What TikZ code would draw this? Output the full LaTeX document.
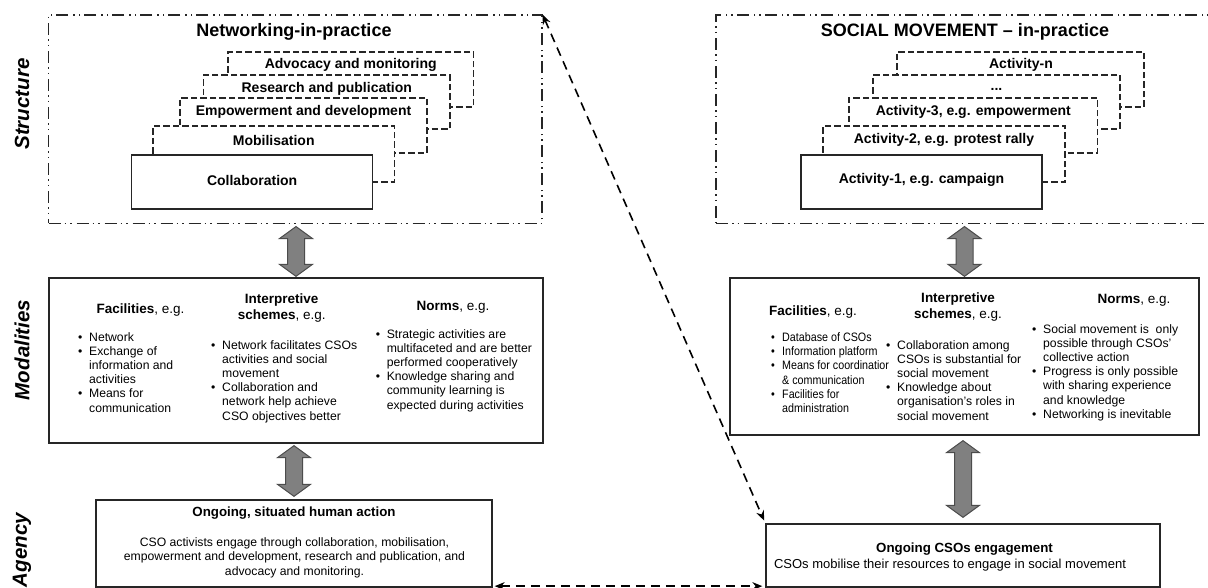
\documentclass[tikz,border=0pt]{standalone}
\usepackage{fontspec}
\setmainfont{Liberation Sans}
\newfontfamily\narrowfont[FakeStretch=0.88]{Liberation Sans}
\usetikzlibrary{calc,arrows.meta}
\newcommand\bu{\makebox[11pt][l]{•}}
\newcommand\ind{\hspace*{11pt}}
\newcommand\blockarr[2]{%
  \draw[blk] let \p1=#1, \p2=#2 in
    (\x2,\y1) -- (\x2+16.5pt,\y1-12pt) -- (\x2+8.5pt,\y1-12pt) -- (\x2+8.5pt,\y2+12pt)
    -- (\x2+16.5pt,\y2+12pt) -- (\x2,\y2) -- (\x2-16.5pt,\y2+12pt) -- (\x2-8.5pt,\y2+12pt)
    -- (\x2-8.5pt,\y1-12pt) -- (\x2-16.5pt,\y1-12pt) -- cycle;}
\begin{document}
\begin{tikzpicture}[x=1pt,y=-1pt,
  frame/.style={draw=black!85, line width=1.1pt, dash pattern=on 12pt off 4pt on 1.5pt off 4pt on 1.5pt off 5pt, inner sep=0pt},
  dbox/.style={draw=black!85, line width=1.3pt, dash pattern=on 6.5pt off 3pt, fill=white, inner sep=0pt},
  sbox/.style={draw=black!85, line width=1.3pt, fill=white, inner sep=0pt},
  btext/.style={font=\bfseries\fontsize{14}{16}\selectfont, inner sep=0pt},
  ttext/.style={font=\bfseries\fontsize{18}{20}\selectfont, inner sep=0pt},
  side/.style={font=\bfseries\itshape\fontsize{20.5}{22}\selectfont, rotate=90, inner sep=0pt},
  head/.style={font=\fontsize{13.5}{16}\selectfont, align=center, inner sep=0pt},
  coltext/.style={font=\fontsize{12.2}{14.2}\selectfont, align=left, inner sep=0pt, anchor=north west},
  blk/.style={fill=black!50, draw=black!70, line width=1pt},
  dasharrow/.style={draw=black, line width=1.6pt, dash pattern=on 9pt off 6pt, {Stealth[length=10pt,width=8pt]}-{Stealth[length=10pt,width=8pt]}}
]
\clip (0,0) rectangle (1208,588);
\fill[white] (0,0) rectangle (1208,588);

% side labels
\node[side] (lstruct) at (22,104) {Structure};
\node[side] (lmodal) at (22,350) {Modalities};
\node[side] (lagency) at (22,550) {Agency};

% ---------- left structure ----------
\node[frame, minimum width=493.5, minimum height=208.5] (lst) at (295.25,119.25) {};
\node[ttext] (ltitle) at (294,32) {Networking-in-practice};
\node[dbox, minimum width=245.5, minimum height=55] (adv) at (350.75,79.5) {};
\node[dbox, minimum width=246.4, minimum height=54] (res) at (326.8,102) {};
\node[dbox, minimum width=247, minimum height=55] (emp) at (303.5,125.5) {};
\node[dbox, minimum width=241.5, minimum height=56] (mob) at (273.75,154) {};
\node[sbox, minimum width=241, minimum height=54] (col) at (252.15,182) {};
\node[btext] (advt) at (350.75,65) {Advocacy and monitoring};
\node[btext] (rest) at (326.8,89) {Research and publication};
\node[btext] (empt) at (303.5,112) {Empowerment and development};
\node[btext] (mobt) at (273.75,140) {Mobilisation};
\node[btext] (colt) at (252.15,180) {Collaboration};

% ---------- right structure ----------
\node[frame, minimum width=500, minimum height=208.5] (rst) at (966,119.25) {};
\node[ttext] (rtitle) at (965,32) {SOCIAL MOVEMENT – in-practice};
\node[dbox, minimum width=247, minimum height=55] (actn) at (1020.5,79.5) {};
\node[dbox, minimum width=247, minimum height=54] (actd) at (996.5,102) {};
\node[dbox, minimum width=248.5, minimum height=55] (act3) at (973.25,125.5) {};
\node[dbox, minimum width=242, minimum height=56] (act2) at (944,154) {};
\node[sbox, minimum width=241, minimum height=54] (act1) at (921.5,182) {};
\node[btext] (actnt) at (1021,65) {Activity-n};
\node[btext] (actdt) at (996.5,89) {...};
\node[btext] (act3t) at (973.25,112) {Activity-3, e.g. empowerment};
\node[btext] (act2t) at (944,140) {Activity-2, e.g. protest rally};
\node[btext] (act1t) at (921.5,180) {Activity-1, e.g. campaign};

% ---------- left modalities ----------
\node[sbox, minimum width=494, minimum height=165] (lmod) at (296,360.5) {};
\node[head] (lfh) at (140.6,310) {\textbf{Facilities}, e.g.};
\node[head] (lih) at (281.7,308) {\textbf{Interpretive}\\\textbf{schemes}, e.g.};
\node[head] (lnh) at (453,307) {\textbf{Norms}, e.g.};
\node[coltext] (lfac) at (78,331) {\strut\bu Network\\\bu Exchange of\\\ind information and\\\ind activities\\\bu Means for\\\ind communication};
\node[coltext] (lint) at (211,339) {\strut\bu Network facilitates CSOs\\\ind activities and social\\\ind movement\\\bu Collaboration and\\\ind network help achieve\\\ind CSO objectives better};
\node[coltext] (lnor) at (375.6,328) {\strut\bu Strategic activities are\\\ind multifaceted and are better\\\ind performed cooperatively\\\bu Knowledge sharing and\\\ind community learning is\\\ind expected during activities};

% ---------- right modalities ----------
\node[sbox, minimum width=469, minimum height=157] (rmod) at (964.5,356.5) {};
\node[head] (rfh) at (813,312) {\textbf{Facilities}, e.g.};
\node[head] (rih) at (958,307.5) {\textbf{Interpretive}\\\textbf{schemes}, e.g.};
\node[head] (rnh) at (1134,300) {\textbf{Norms}, e.g.};
\node[coltext, font=\narrowfont\fontsize{12.2}{14.3}\selectfont] (rfac) at (771,331) {\strut\bu Database of CSOs\\\bu Information platform\\\bu Means for coordinatior\\\ind \& communication\\\bu Facilities for\\\ind administration};
\node[coltext] (rint) at (886,339) {\strut\bu Collaboration among\\\ind CSOs is substantial for\\\ind social movement\\\bu Knowledge about\\\ind organisation's roles in\\\ind social movement};
\node[coltext] (rnor) at (1032,323) {\strut\bu Social movement is\ \ only\\\ind possible through CSOs'\\\ind collective action\\\bu Progress is only possible\\\ind with sharing experience\\\ind and knowledge\\\bu Networking is inevitable};

% ---------- agency ----------
\node[sbox, minimum width=396, minimum height=87] (lag) at (294,543.5) {};
\node[font=\bfseries\fontsize{13.3}{15}\selectfont, inner sep=0pt] (lagt) at (294,513) {Ongoing, situated human action};
\node[font=\fontsize{12.2}{14.5}\selectfont, align=center, inner sep=0pt] (lagb) at (294.5,557.5) {CSO activists engage through collaboration, mobilisation,\\empowerment and development, research and publication, and\\advocacy and monitoring.};

\node[sbox, minimum width=394, minimum height=63] (rag) at (963,555.5) {};
\node[font=\bfseries\fontsize{13.3}{15}\selectfont, inner sep=0pt] (ragt) at (964.5,549) {Ongoing CSOs engagement};
\node[font=\fontsize{13}{15}\selectfont, inner sep=0pt] (ragb) at (950,565) {CSOs mobilise their resources to engage in social movement};

% ---------- block arrows ----------
\blockarr{($(lst.south)+(0,2.5)$)}{($(lmod.north)+(0,-1)$)}
\blockarr{($(lmod.south)+(0,2)$)}{($(lag.north)+(0,-3)$)}
\blockarr{($(rst.south)+(0,2.5)$)}{($(rmod.north)+(0,-1)$)}
\blockarr{($(rmod.south)+(0,5)$)}{($(rag.north)+(0,-6)$)}

% ---------- dashed connectors ----------
\draw[dasharrow, shorten >=3pt] (lst.north east) -- (rag.north west);
\draw[dasharrow] ($(lag.south east)+(2,-1.5)$) -- ($(rag.south west)+(-3,-1.5)$);
\end{tikzpicture}
\end{document}
